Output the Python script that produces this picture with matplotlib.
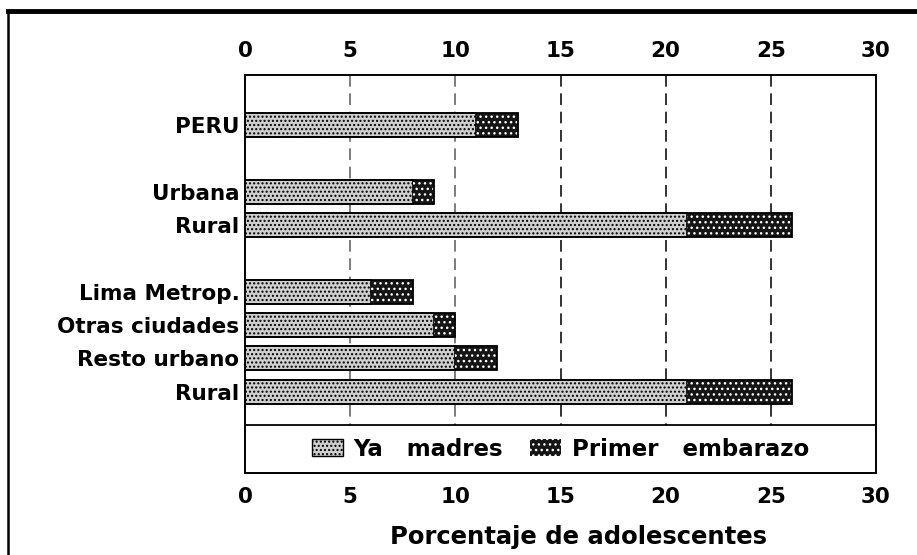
import matplotlib.pyplot as plt
import matplotlib.patches as mpatches
from matplotlib.lines import Line2D

# data
categories = ["PERU", "Urbana", "Rural", "Lima Metrop.", "Otras ciudades", "Resto urbano", "Rural"]
ya_madres = [11, 8, 21, 6, 9, 10, 21]
primer_embarazo = [2, 1, 5, 2, 1, 2, 5]
positions = [0, 2, 3, 5, 6, 7, 8]
xticks = [0, 5, 10, 15, 20, 25, 30]

plt.rcParams['font.family'] = 'DejaVu Sans'
plt.rcParams['font.weight'] = 'bold'
plt.rcParams['hatch.linewidth'] = 1.0

fig = plt.figure(figsize=(9.17, 5.55), dpi=100)
ax = fig.add_axes([245/917, 82/555, 631/917, 398/555])

ymin, ymax = -1.5, 10.44
legend_line = 9.0

light = '#cfcfcf'
dark = '#151515'

# stacked bars
ax.barh(positions, ya_madres, height=0.72, color=light, edgecolor='black',
        hatch='....', linewidth=1.2, zorder=3)
ax.barh(positions, primer_embarazo, left=ya_madres, height=0.72, color=dark,
        edgecolor='white', hatch='...', linewidth=0, zorder=3)
totals = [a + b for a, b in zip(ya_madres, primer_embarazo)]
ax.barh(positions, totals, height=0.72, fill=False, edgecolor='black',
        linewidth=1.3, zorder=4)

ax.set_xlim(0, 30)
ax.set_ylim(ymax, ymin)

# dashed grid only above the legend strip
ax.vlines(xticks[1:-1], ymin, legend_line,
          colors=['#666666', '#666666', '#111111', '#111111', '#111111'],
          linestyles=(0, (7, 4)), linewidth=1.2, zorder=1)
ax.axhline(legend_line, color='black', linewidth=1.3, zorder=2)

ax.set_xticks(xticks)
ax.set_yticks(positions)
ax.set_yticklabels(categories, fontsize=15.5, fontweight='bold')
ax.tick_params(axis='x', top=True, labeltop=True, length=0, labelsize=15.5, pad=10)
ax.tick_params(axis='y', length=0, pad=4)
for lab in ax.get_xticklabels():
    lab.set_fontweight('bold')

for sp in ax.spines.values():
    sp.set_linewidth(1.4)

ax.set_xlabel("Porcentaje de adolescentes", fontsize=17.5, fontweight='bold')
ax.xaxis.set_label_coords((579 - 245) / 631, -0.13)

h1 = mpatches.Patch(facecolor=light, edgecolor='black', hatch='....', linewidth=1)
h2 = mpatches.Patch(facecolor=dark, edgecolor='white', hatch='...', linewidth=0)
ax.legend([h1, h2], ["Ya   madres", "Primer   embarazo"], loc='center',
          bbox_to_anchor=(0.5, (ymax - (legend_line + ymax) / 2) / (ymax - ymin)),
          ncol=2, frameon=False, prop={'size': 16.5, 'weight': 'bold'},
          handlelength=1.35, handleheight=0.7, handletextpad=0.45, columnspacing=1.2)

# page frame from the scanned report
fig.add_artist(Line2D([8/917, 1], [1 - 11/555, 1 - 11/555], color='black', linewidth=3.5))
fig.add_artist(Line2D([8/917, 8/917], [0, 1 - 11/555], color='black', linewidth=1.8))

fig.savefig("out.png", dpi=100)
